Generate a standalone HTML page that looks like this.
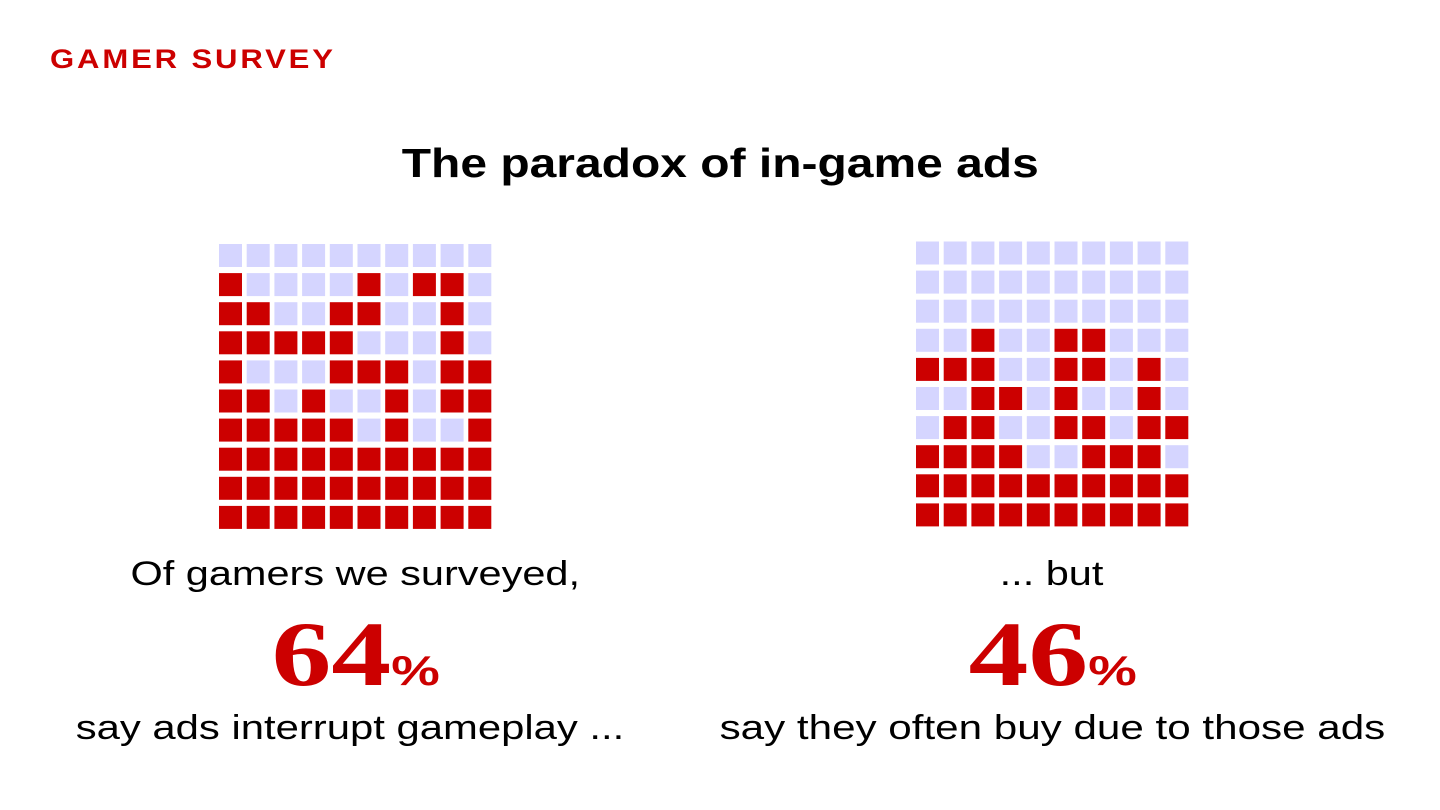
<!DOCTYPE html>
<html><head><meta charset="utf-8"><style>
body{margin:0;width:1440px;height:810px;background:#fff;position:relative;overflow:hidden;font-family:"Liberation Sans",sans-serif}
.abs{position:absolute}
.sx{display:inline-block;white-space:nowrap}
.kicker{left:50px;top:44px;color:#cc0000;font-weight:bold;font-size:27px;letter-spacing:2.5px;transform-origin:0 0;transform:scaleX(1.15)}
.title{left:0;width:1440px;top:140px;text-align:center;font-weight:bold;font-size:41px;color:#000}
.cap{font-size:34px;color:#000;white-space:nowrap;display:flex;justify-content:center;width:0}
.big{font-family:"Liberation Serif",serif;font-weight:bold;color:#cc0000;font-size:92px;line-height:1;display:flex;justify-content:center;width:0}
.big span.p{font-family:"Liberation Sans",sans-serif;font-size:42px}
</style></head><body>
<div class="abs kicker">GAMER SURVEY</div>
<div class="abs title"><span class="sx" style="transform:scaleX(1.17)">The paradox of in-game ads</span></div>
<svg class="abs" style="left:0;top:0" width="1440" height="810">
<g id="g1"></g>
<g id="g2"></g>
</svg>
<div class="abs cap" style="left:355px;top:555px"><span class="sx" style="transform:scaleX(1.22)">Of gamers we surveyed,</span></div>
<div class="abs big" style="left:356px;top:608px"><span class="sx" style="transform:scaleX(1.3)">64<span class="p">%</span></span></div>
<div class="abs cap" style="left:350px;top:709px"><span class="sx" style="transform:scaleX(1.23)">say ads interrupt gameplay ...</span></div>
<div class="abs cap" style="left:1052px;top:555px"><span class="sx" style="transform:scaleX(1.22)">... but</span></div>
<div class="abs big" style="left:1053px;top:608px"><span class="sx" style="transform:scaleX(1.3)">46<span class="p">%</span></span></div>
<div class="abs cap" style="left:1052px;top:709px"><span class="sx" style="transform:scaleX(1.24)">say they often buy due to those ads</span></div>
<script>
const leftGrid=["0000000000","1000010110","1100110010","1111100010","1000111011","1101001011","1111101001","1111111111","1111111111","1111111111"];
const rightGrid=["0000000000","0000000000","0000000000","0010011000","1110011010","0011010010","0110011011","1111001110","1111111111","1111111111"];
function draw(id,grid,x0,y0){
  const g=document.getElementById(id);
  grid.forEach((row,r)=>{for(let c=0;c<10;c++){
    const el=document.createElementNS("http://www.w3.org/2000/svg","rect");
    el.setAttribute("x",x0+c*27.7);el.setAttribute("y",y0+r*29.1);
    el.setAttribute("width",23);el.setAttribute("height",23);
    el.setAttribute("fill",row[c]==="1"?"#cc0000":"#d5d5ff");
    
    
    g.appendChild(el);}});
}
draw("g1",leftGrid,219,244);
draw("g2",rightGrid,916,241.5);
</script>
</body></html>
